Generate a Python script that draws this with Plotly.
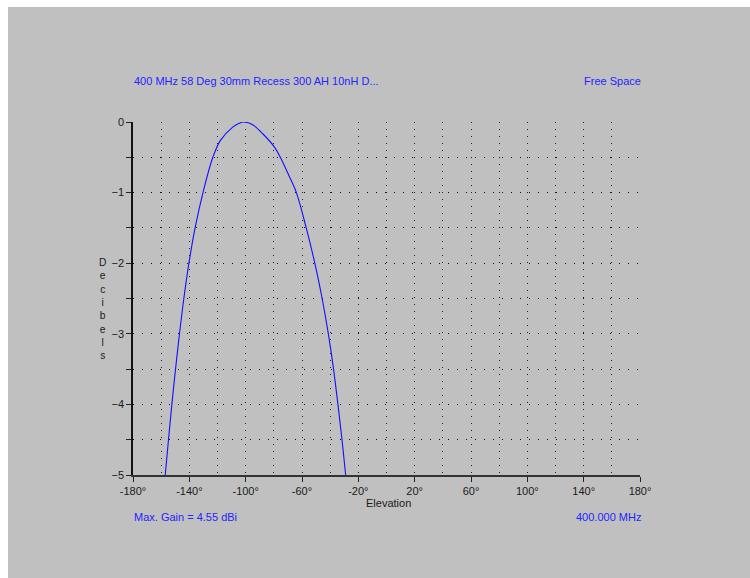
import plotly.graph_objects as go

# Elevation pattern data (degrees, dB relative to max)
elevation = [-159.2, -157.1, -154.8, -152.4, -149.8, -147.0, -143.9, -140.3, -135.9, -130.3,
             -123.3, -117.9, -109.0, -105.0, -100.7, -95.0, -87.7, -79.4, -75.4, -69.5,
             -64.0, -57.0, -50.9, -45.7, -41.3, -37.6, -34.5, -31.6, -29.0, -26.6]
decibels = [-5.5, -5.0, -4.5, -4.0, -3.5, -3.0, -2.5, -2.0, -1.5, -1.0,
            -0.5, -0.26, -0.07, -0.02, 0.0, -0.04, -0.17, -0.36, -0.5, -0.75,
            -1.0, -1.5, -2.0, -2.5, -3.0, -3.5, -4.0, -4.5, -5.0, -5.5]

x_tickvals = [-180, -140, -100, -60, -20, 20, 60, 100, 140, 180]
x_ticktext = [f"{v}°" for v in x_tickvals]
y_tickvals = [0, -1, -2, -3, -4, -5]

title_left = "400 MHz 58 Deg 30mm Recess 300 AH 10nH D..."
title_right = "Free Space"
foot_left = "Max. Gain = 4.55 dBi"
foot_right = "400.000 MHz"

W, H = 750, 578
L, R, T, B = 133, 110, 122, 103
PW, PH = W - L - R, H - T - B

def px(x):
    return (x - L) / PW

def py(y):
    return (H - B - y) / PH

blue = "#2424FF"
font = "Liberation Sans, Arial, sans-serif"

fig = go.Figure()
fig.add_trace(go.Scatter(x=elevation, y=decibels, mode="lines",
                         line=dict(color="#1010FF", width=1.1, shape="spline", smoothing=1.0),
                         hoverinfo="skip", showlegend=False))

fig.update_layout(
    width=W, height=H,
    margin=dict(l=L, r=R, t=T, b=B, pad=0),
    paper_bgcolor="white",
    plot_bgcolor="rgba(0,0,0,0)",
    font=dict(family=font, size=11, color="#1a1a1a"),
    xaxis=dict(range=[-180, 180], tickmode="array", tickvals=x_tickvals, ticktext=x_ticktext,
               ticks="outside", ticklen=5, tickcolor="#222", tickwidth=1,
               showline=True, linecolor="#333", linewidth=1.5,
               showgrid=True, gridcolor="#202020", gridwidth=1, griddash="1px,6px",
               zeroline=False,
               minor=dict(tickmode="array", tickvals=[-160, -120, -80, -40, 0, 40, 80, 120, 160],
                          showgrid=True, gridcolor="#202020", gridwidth=1, griddash="1px,6px", ticks=""),
               fixedrange=True),
    yaxis=dict(range=[-5, 0], tickmode="array", tickvals=y_tickvals,
               ticks="outside", ticklen=5, tickcolor="#222", tickwidth=1,
               showline=True, linecolor="#111", linewidth=1.5,
               showgrid=True, gridcolor="#101010", gridwidth=1, griddash="1px,8px",
               zeroline=False,
               minor=dict(tickmode="array", tickvals=[-0.5, -1.5, -2.5, -3.5, -4.5],
                          showgrid=True, gridcolor="#101010", gridwidth=1, griddash="1px,8px",
                          ticks="outside", ticklen=5, tickcolor="#222"),
               fixedrange=True),
)

fig.add_shape(type="rect", xref="paper", yref="paper",
              x0=px(8), x1=px(W + 2), y0=py(H + 2), y1=py(7),
              fillcolor="#C0C0C0", line=dict(width=0), layer="below")

fig.add_annotation(x=px(132), y=py(81), xref="paper", yref="paper", text=title_left,
                   showarrow=False, xanchor="left", yanchor="middle", font=dict(color=blue, size=11))
fig.add_annotation(x=px(643), y=py(81), xref="paper", yref="paper", text=title_right,
                   showarrow=False, xanchor="right", yanchor="middle", font=dict(color=blue, size=11))
fig.add_annotation(x=px(132), y=py(517), xref="paper", yref="paper", text=foot_left,
                   showarrow=False, xanchor="left", yanchor="middle", font=dict(color=blue, size=11))
fig.add_annotation(x=px(643), y=py(517), xref="paper", yref="paper", text=foot_right,
                   showarrow=False, xanchor="right", yanchor="middle", font=dict(color=blue, size=11))
fig.add_annotation(x=px(388), y=py(503), xref="paper", yref="paper", text="Elevation",
                   showarrow=False, xanchor="center", yanchor="middle", font=dict(size=11))
fig.add_annotation(x=px(102), y=py(309), xref="paper", yref="paper",
                   text="<br>".join(list("Decibels")),
                   showarrow=False, xanchor="center", yanchor="middle", align="center",
                   font=dict(size=10.25))

fig.write_html("out.html")
